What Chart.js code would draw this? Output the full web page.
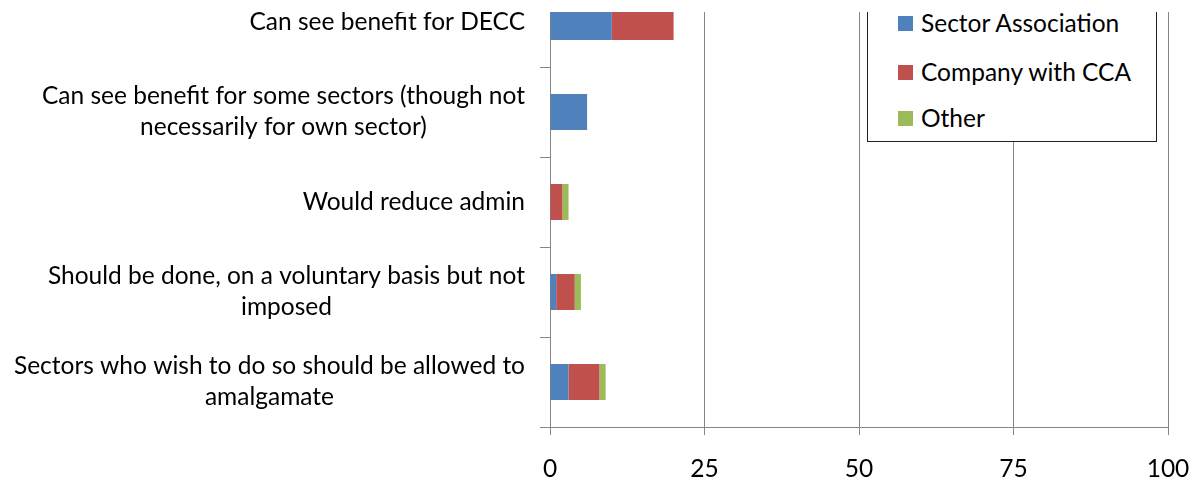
<!DOCTYPE html>
<html>
<head>
<meta charset="utf-8">
<script src="https://cdn.jsdelivr.net/npm/chart.js@4/dist/chart.umd.min.js"></script>
<style>
  html, body { margin: 0; padding: 0; background: #fff; overflow: hidden; }
  body { width: 1201px; height: 481px; position: relative; }
  #clip { position: absolute; left: 0; top: 12px; width: 1201px; height: 469px; overflow: hidden; }
  #wrap { position: absolute; left: 0; top: -35px; width: 1201px; height: 504px; }
  #legend { position: absolute; left: 867px; top: -22px; width: 290px; height: 152px; box-sizing: border-box;
            border: 1px solid #222; background: #fff; font-family: Lato, "Open Sans", sans-serif; font-size: 24.5px; color: #000; }
  .item { position: absolute; left: 30px; height: 24px; line-height: 24px; white-space: nowrap; }
  .sw { position: absolute; left: 0; top: 5px; width: 15px; height: 15px; }
  .lt { position: absolute; left: 23px; top: 0; }
</style>
</head>
<body>
<div id="clip">
  <div id="wrap"><canvas id="c" width="1201" height="504"></canvas></div>
  <div id="legend"></div>
</div>
<script>
const categories = [
  ["Can see benefit for DECC"],
  ["Can see benefit for some sectors (though not", "necessarily for own sector)"],
  ["Would reduce admin"],
  ["Should be done, on a voluntary basis but not", "imposed"],
  ["Sectors who wish to do so should be allowed to", "amalgamate"]
];
const seriesNames = ["Sector Association", "Company with CCA", "Other"];
const sectorAssociation = [10, 6, 0, 1, 3];
const companyWithCCA = [10, 0, 2, 3, 5];
const other = [0, 0, 1, 1, 1];
const xTicks = [0, 25, 50, 75, 100];

const colors = ["#4F81BD", "#C0504D", "#9BBB59"];
const seriesValues = [sectorAssociation, companyWithCCA, other];
const FONT = 'Lato, "Open Sans", sans-serif';
const FSIZE = 24.5;
const GRID = "#868686";

// HTML legend built from series names
const legend = document.getElementById('legend');
const itemTops = [20, 69, 115];
seriesNames.forEach((n, i) => {
  const d = document.createElement('div');
  d.className = 'item';
  d.style.top = itemTops[i] + 'px';
  d.innerHTML = '<span class="sw" style="background:' + colors[i] + '"></span><span class="lt"></span>';
  d.querySelector('.lt').textContent = n;
  legend.appendChild(d);
});

const labelPlugin = {
  id: 'catLabels',
  afterDraw(chart) {
    const ctx = chart.ctx;
    const ys = chart.scales.y;
    const rightEdge = chart.chartArea.left - 25;
    const lineH = 31;
    ctx.save();
    ctx.font = FSIZE + 'px ' + FONT;
    ctx.fillStyle = '#000';
    ctx.textAlign = 'center';
    ctx.textBaseline = 'middle';
    categories.forEach((lines, i) => {
      const cy = ys.getPixelForValue(i);
      let w = 0;
      lines.forEach(l => { w = Math.max(w, ctx.measureText(l).width); });
      const cx = rightEdge - w / 2;
      lines.forEach((l, j) => {
        ctx.fillText(l, cx, cy + (j - (lines.length - 1) / 2) * lineH);
      });
    });
    ctx.restore();
  }
};

new Chart(document.getElementById('c'), {
  type: 'bar',
  data: {
    labels: categories.map(c => c.join(' ')),
    datasets: seriesNames.map((n, i) => ({
      label: n,
      data: seriesValues[i],
      backgroundColor: colors[i],
      borderWidth: 0,
      barPercentage: 0.4,
      categoryPercentage: 1.0
    }))
  },
  options: {
    indexAxis: 'y',
    responsive: false,
    animation: false,
    events: [],
    layout: { padding: { left: 0, right: 33, top: 0, bottom: 0 } },
    plugins: { legend: { display: false }, tooltip: { enabled: false } },
    scales: {
      x: {
        stacked: true,
        min: 0, max: 100,
        afterBuildTicks(scale) { scale.ticks = xTicks.map(v => ({ value: v })); },
        afterFit(scale) { scale.height = 54; scale.paddingLeft = 0; scale.paddingRight = 0; },
        grid: { color: GRID, lineWidth: 1, tickLength: 8, drawTicks: true },
        border: { display: true, color: GRID, width: 1 },
        ticks: { font: { family: FONT, size: FSIZE }, color: '#000', padding: 19, maxRotation: 0 }
      },
      y: {
        stacked: true,
        afterFit(scale) { scale.width = 550; },
        grid: { offset: true, drawOnChartArea: false, color: GRID, tickLength: 10, drawTicks: true },
        border: { display: true, color: GRID, width: 1 },
        ticks: { display: false }
      }
    }
  },
  plugins: [labelPlugin]
});
</script>
</body>
</html>
